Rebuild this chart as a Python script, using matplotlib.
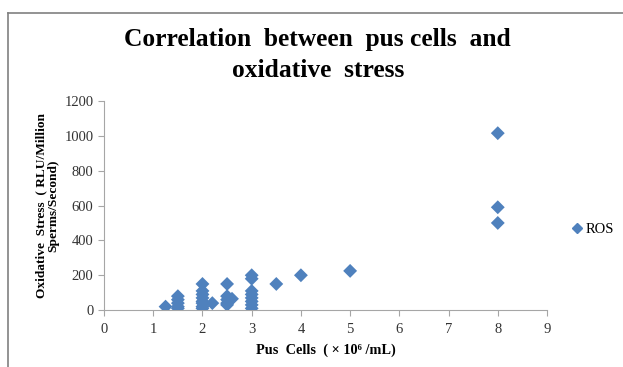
import matplotlib
matplotlib.use("Agg")
import matplotlib.pyplot as plt
from matplotlib.lines import Line2D

plt.rcParams['font.family'] = ['Liberation Serif', 'DejaVu Serif']

# ROS readings per pus cell count
pus_cells = [1.25,
             1.5, 1.5, 1.5, 1.5, 1.5,
             2, 2, 2, 2, 2, 2, 2, 2,
             2.2,
             2.5, 2.5, 2.5, 2.5, 2.5,
             2.6,
             3, 3, 3, 3, 3, 3, 3, 3,
             3.5, 4, 5,
             8, 8, 8]
ros = [20,
       80, 60, 40, 20, 10,
       150, 110, 90, 70, 50, 40, 20, 10,
       40,
       150, 80, 60, 40, 30,
       65,
       200, 180, 110, 90, 70, 50, 30, 10,
       150, 200, 225,
       1015, 590, 500]

x_ticks = list(range(0, 10))
y_ticks = list(range(0, 1201, 200))

blue = '#4F81BD'
grey = '#A6A6A6'

fig = plt.figure(figsize=(6.23, 3.67), dpi=100)
ax = fig.add_axes([0.167, 0.155, 0.711, 0.570])

ax.scatter(pus_cells, ros, marker='D', s=50, color=blue, edgecolors='none', zorder=3)

ax.set_xlim(0, 9)
ax.set_ylim(0, 1200)
ax.set_xticks(x_ticks)
ax.set_yticks(y_ticks)
for s in ['top', 'right']:
    ax.spines[s].set_visible(False)
for s in ['left', 'bottom']:
    ax.spines[s].set_color(grey)
ax.tick_params(colors=grey, labelcolor='#333333', labelsize=10.5, length=4, direction='out')
ax.tick_params(axis='x', pad=5)

ax.set_xlabel('Pus  Cells  ( × 10⁶ /mL)', fontsize=10.3, fontweight='bold', labelpad=6)
ax.set_ylabel('Oxidative  Stress  ( RLU/Million\nSperms/Second)', fontsize=9.6,
              fontweight='bold', linespacing=1.0, labelpad=4)

fig.text(0.51, 0.85, 'Correlation  between  pus cells  and\noxidative  stress',
         ha='center', va='center', fontsize=18.4, fontweight='bold', linespacing=1.4)

# legend
fig.legend(handles=[Line2D([], [], marker='D', color=blue, linestyle='none', markersize=5)],
           labels=['ROS'], loc='center left', bbox_to_anchor=(0.917, 0.376),
           frameon=False, handlelength=0.8, handletextpad=0.15, fontsize=10.5,
           borderaxespad=0, borderpad=0)

# page frame
fig.add_artist(Line2D([8/623, 1], [1 - 13/367] * 2, color='#808080', lw=1.2))
fig.add_artist(Line2D([8/623] * 2, [0, 1 - 13/367], color='#808080', lw=1.2))

fig.savefig('out.png', dpi=100)
